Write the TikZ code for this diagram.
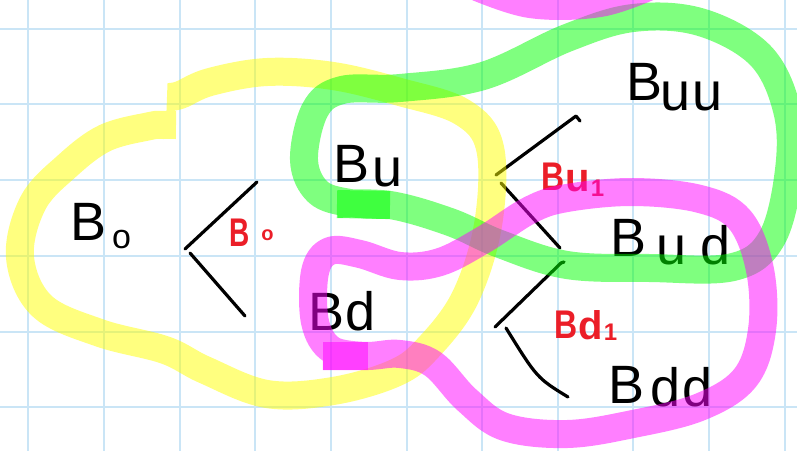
\documentclass[tikz,border=0pt]{standalone}
\usepackage{fontspec}
\setmainfont{Liberation Sans}
\definecolor{gridblue}{RGB}{202,229,246}
\definecolor{hlyellow}{RGB}{255,255,0}
\definecolor{hlgreen}{RGB}{0,255,0}
\definecolor{hlmagenta}{RGB}{255,0,255}
\definecolor{pred}{RGB}{235,30,40}
\tikzset{
  gridline/.style={draw=gridblue, line width=1.6pt},
  pen/.style={draw=black, line width=3.2pt, line cap=round, line join=round},
  hl/.style={line width=28pt, line cap=butt, line join=round, opacity=0.5},
  lbl/.style={anchor=base west, inner sep=0pt, font=\fontsize{54}{54}\selectfont},
  rlbl/.style={anchor=base west, inner sep=0pt, text=pred, font=\fontsize{40}{40}\selectfont\bfseries},
}
\begin{document}
\begin{tikzpicture}[x=1pt,y=-1pt]
\useasboundingbox (0,0) rectangle (797,451);
\fill[white] (0,0) rectangle (797,451);
% grid
\foreach \gx in {28,104,180,255,331,407,482,558,633,709,785}
  \draw[gridline] (\gx,0) -- (\gx,451);
\foreach \gy in {29,104,180,256,332,407}
  \draw[gridline] (0,\gy) -- (797,\gy);

% black labels
\node[lbl] (b0) at (70,240) {B\kern6pt\raisebox{-8pt}{\fontsize{34}{34}\selectfont o}};
\node[lbl] (bu) at (333,182) {B\kern3pt\raisebox{-4pt}{u}};
\node[lbl] (bd) at (308,330) {B\kern1pt d};
\node[lbl] (buu) at (626,100) {B\kern-2pt\raisebox{-10pt}{u\kern2pt u}};
\node[lbl] (bud) at (610,256) {B\kern10pt\raisebox{-8pt}{u\kern14pt d}};
\node[lbl] (bdd) at (608,403) {B\kern6pt\raisebox{-3pt}{d\kern2pt d}};

% red labels
\node[rlbl] (r0) at (229,246) {\scalebox{0.7}[1]{B}\kern12pt\raisebox{6pt}{\fontsize{20}{20}\selectfont o}};
\node[rlbl] (ru1) at (541,190) {\scalebox{0.8}[1]{B}\kern1pt\raisebox{-1pt}{u}\kern1pt\raisebox{-6pt}{\fontsize{24}{24}\selectfont 1}};
\node[rlbl] (rd1) at (554,338) {\scalebox{0.8}[1]{B}\kern1pt\raisebox{-1pt}{d}\kern1pt\raisebox{-2pt}{\fontsize{24}{24}\selectfont 1}};

% fork coordinates
\coordinate (f0a) at (185,249);
\coordinate (f0u) at (257,182);
\coordinate (f0b) at (190,253);
\coordinate (f0d) at (245,316);
\coordinate (f1a) at (496,175);
\coordinate (f1u) at (576,116);
\coordinate (f1h) at (580,121);
\coordinate (f1b) at (501,183);
\coordinate (f1d) at (560,248);
\coordinate (f2a) at (495,327);
\coordinate (f2u) at (561,263);
\coordinate (f2h) at (564,262);
\coordinate (f2b) at (506,328);
\coordinate (f2m) at (537,378);
\coordinate (f2d) at (568,397);

% forks
\draw[pen] (f0u) -- (f0a);
\draw[pen] (f0b) -- (f0d);
\draw[pen] (f1a) -- (f1u) -- (f1h);
\draw[pen] (f1b) -- (f1d);
\draw[pen] (f2a) -- (f2u) -- (f2h);
\draw[pen] (f2b) .. controls (f2m) .. (f2d);

% yellow highlight
\draw[hl, draw=hlyellow] plot[smooth, tension=0.6] coordinates {
  (167,97) (180,95) (210,82) (267,72) (333,76) (400,92) (462,112) (490,148)
  (488,225) (465,298) (428,348) (395,373) (333,391) (267,394)
  (205,370) (165,350) (100,333) (42,306) (20,257) (33,203)
  (67,166) (105,138) (150,126) (163,125) (176,125)};

% green highlight
\draw[hl, draw=hlgreen] plot[smooth, tension=0.6] coordinates {
  (337,204) (390,205) (450,222) (500,244) (567,265) (650,268)
  (733,267) (772,238) (789,170) (787,110) (760,55) (700,22)
  (633,18) (567,38) (483,76) (400,88) (342,90) (315,110)
  (304,160) (318,192) (350,203) (390,205)};
\draw[hl, draw=hlgreen] (337,204) -- (390,205);

% magenta highlights
\draw[hl, draw=hlmagenta] plot[smooth, tension=0.6] coordinates {
  (470,-16) (530,4) (600,3) (655,-16)};
\draw[hl, draw=hlmagenta] plot[smooth, tension=0.6] coordinates {
  (323,356) (368,356) (400,354) (433,364) (467,400) (505,427)
  (567,434) (633,424) (700,407) (745,378) (762,330) (760,270)
  (740,220) (700,199) (633,192) (567,198) (530,210) (483,240)
  (440,262) (400,266) (360,254) (330,251) (315,272) (315,322)
  (332,350) (368,356)};
\draw[hl, draw=hlmagenta] (323,356) -- (368,356);
\end{tikzpicture}
\end{document}
